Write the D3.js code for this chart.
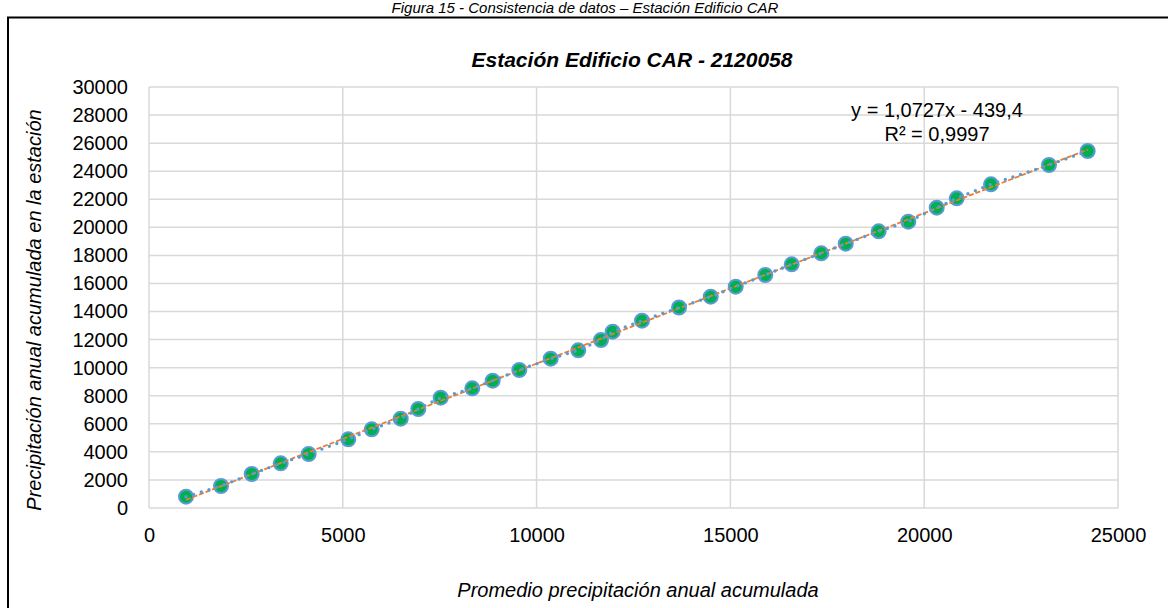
<!DOCTYPE html>
<html>
<head>
<meta charset="utf-8">
<script src="https://cdn.jsdelivr.net/npm/d3@7"></script>
<style>
  html, body { margin: 0; padding: 0; background: #ffffff; }
  svg { display: block; font-family: "Liberation Sans", Arial, sans-serif; }
</style>
</head>
<body>
<svg id="chart" width="1168" height="608"></svg>
<script>
// Accumulated annual precipitation: regional average (x) vs. station (y)
const promedioAcumulado = [955, 1858, 2650, 3398, 4120, 5142, 5746, 6494, 6948, 7526,
  8341, 8867, 9554, 10364, 11076, 11662, 11963, 12719, 13674, 14492, 15137, 15900,
  16581, 17345, 17975, 18826, 19590, 20323, 20839, 21723, 23220, 24218];
const estacionAcumulado = [805, 1568, 2423, 3185, 3848, 4896, 5608, 6364, 7055, 7860,
  8530, 9071, 9834, 10639, 11238, 11972, 12563, 13347, 14288, 15057, 15770, 16604,
  17366, 18150, 18834, 19718, 20402, 21400, 22069, 23067, 24442, 25440];

const xTicks = [0, 5000, 10000, 15000, 20000, 25000];
const yTicks = [0, 2000, 4000, 6000, 8000, 10000, 12000, 14000, 16000, 18000, 20000,
  22000, 24000, 26000, 28000, 30000];

// Linear trendline coefficients
const pendiente = 1.0727;
const intercepto = -439.4;
const r2 = 0.9997;

const titulo = "Estación Edificio CAR - 2120058";
const leyenda = "Figura 15 - Consistencia de datos – Estación Edificio CAR";
const tituloX = "Promedio precipitación anual acumulada";
const tituloY = "Precipitación anual acumulada en la estación";

const svg = d3.select("#chart");
const plot = { left: 149, right: 1118, top: 87, bottom: 508 };

const x = d3.scaleLinear().domain([0, 25000]).range([plot.left, plot.right]);
const y = d3.scaleLinear().domain([0, 30000]).range([plot.bottom, plot.top]);

// Figure caption above the frame
svg.append("text")
  .attr("x", 585).attr("y", 13)
  .attr("text-anchor", "middle")
  .attr("font-size", 15).attr("font-style", "italic")
  .attr("fill", "#000")
  .text(leyenda);

// Chart frame
svg.append("rect")
  .attr("x", 8).attr("y", 17.5)
  .attr("width", 1180).attr("height", 620)
  .attr("fill", "none").attr("stroke", "#000").attr("stroke-width", 2);

// Title
svg.append("text")
  .attr("x", 632).attr("y", 67)
  .attr("text-anchor", "middle")
  .attr("font-size", 21).attr("font-weight", "bold").attr("font-style", "italic")
  .attr("fill", "#000")
  .text(titulo);

// Gridlines
const grid = svg.append("g").attr("stroke", "#d9d9d9").attr("stroke-width", 1.5);
grid.selectAll("line.h").data(yTicks).join("line")
  .attr("class", "h")
  .attr("x1", plot.left).attr("x2", plot.right)
  .attr("y1", d => y(d)).attr("y2", d => y(d));
grid.selectAll("line.v").data(xTicks).join("line")
  .attr("class", "v")
  .attr("y1", plot.top).attr("y2", plot.bottom)
  .attr("x1", d => x(d)).attr("x2", d => x(d));

// Axes (labels only; lines are the gridlines)
const xAxis = svg.append("g")
  .attr("transform", `translate(0,${plot.bottom})`)
  .call(d3.axisBottom(x).tickValues(xTicks).tickSize(0).tickPadding(20).tickFormat(d3.format("d")));
const yAxis = svg.append("g")
  .attr("transform", `translate(${plot.left},0)`)
  .call(d3.axisLeft(y).tickValues(yTicks).tickSize(0).tickPadding(21).tickFormat(d3.format("d")));
[xAxis, yAxis].forEach(a => {
  a.select(".domain").remove();
  a.selectAll("text")
    .attr("font-family", "Liberation Sans, Arial, sans-serif")
    .attr("font-size", 20).attr("fill", "#000");
});
xAxis.selectAll("text").attr("dy", "0.71em");

// Axis titles
svg.append("text")
  .attr("x", 638).attr("y", 597)
  .attr("text-anchor", "middle")
  .attr("font-size", 20).attr("font-style", "italic")
  .attr("fill", "#000")
  .text(tituloX);
svg.append("text")
  .attr("transform", "translate(41,310) rotate(-90)")
  .attr("text-anchor", "middle")
  .attr("font-size", 20).attr("font-style", "italic")
  .attr("fill", "#000")
  .text(tituloY);

const datos = promedioAcumulado.map((v, i) => ({ x: v, y: estacionAcumulado[i] }));

// Markers
svg.append("g").selectAll("circle").data(datos).join("circle")
  .attr("cx", d => x(d.x)).attr("cy", d => y(d.y))
  .attr("r", 7)
  .attr("fill", "#00b050")
  .attr("stroke", "#5b9bd5").attr("stroke-width", 2);

// Trendline
const xMin = d3.min(promedioAcumulado), xMax = d3.max(promedioAcumulado);
svg.append("line")
  .attr("x1", x(xMin)).attr("y1", y(pendiente * xMin + intercepto))
  .attr("x2", x(xMax)).attr("y2", y(pendiente * xMax + intercepto))
  .attr("stroke", "#ed7d31").attr("stroke-width", 1.8)
  .attr("stroke-dasharray", "5 2");

// Series line (round dots)
svg.append("path")
  .datum(datos)
  .attr("d", d3.line().x(d => x(d.x)).y(d => y(d.y)))
  .attr("fill", "none")
  .attr("stroke", "#5b9bd5").attr("stroke-width", 3.4)
  .attr("stroke-linecap", "round")
  .attr("stroke-dasharray", "0 8");

// Trendline equation
const fmt = v => String(v).replace(".", ",");
const eq = svg.append("text")
  .attr("text-anchor", "middle")
  .attr("font-size", 20).attr("fill", "#000");
eq.append("tspan").attr("x", 937).attr("y", 117)
  .text(`y = ${fmt(pendiente)}x - ${fmt(Math.abs(intercepto))}`);
eq.append("tspan").attr("x", 937).attr("y", 141)
  .text(`R² = ${fmt(r2)}`);
</script>
</body>
</html>
